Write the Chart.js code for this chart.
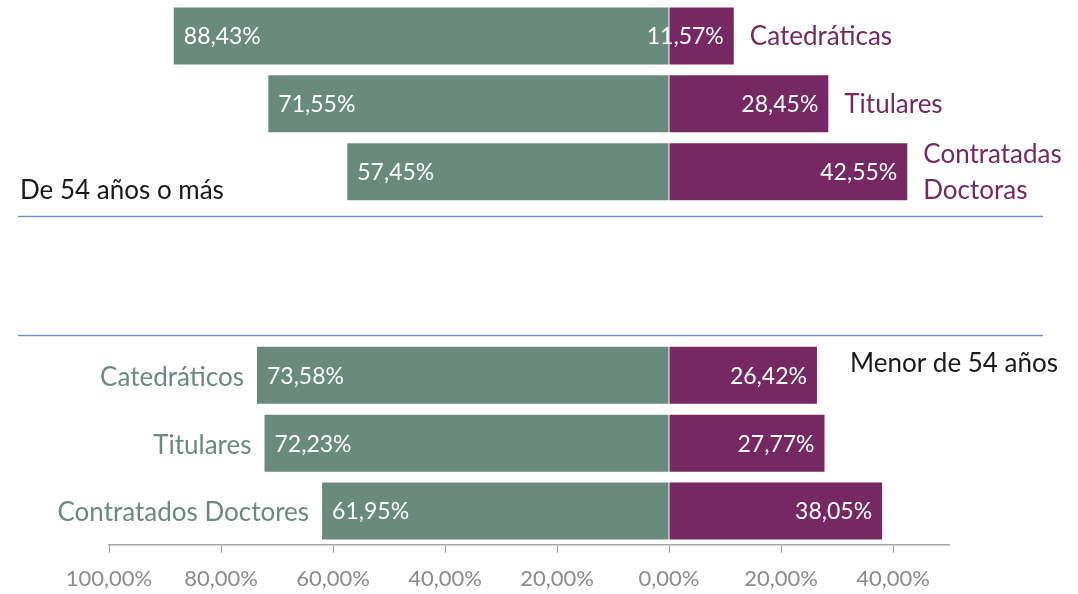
<!DOCTYPE html>
<html>
<head>
<meta charset="utf-8">
<script src="https://cdn.jsdelivr.net/npm/chart.js@4.4.1/dist/chart.umd.min.js"></script>
<style>
html,body{margin:0;padding:0;background:#fff;}
#wrap{width:1078px;height:594px;position:relative;}
</style>
</head>
<body>
<div id="wrap"><canvas id="c" width="1078" height="594"></canvas></div>
<script>
const categories = ['Catedráticas', 'Titulares', 'Contratadas Doctoras', '', '', 'Catedráticos', 'Titulares', 'Contratados Doctores'];
const rightLabels = [['Catedráticas'], ['Titulares'], ['Contratadas', 'Doctoras'], null, null, null, null, null];
const leftLabels = [null, null, null, null, null, 'Catedráticos', 'Titulares', 'Contratados Doctores'];
const greenValues = [88.43, 71.55, 57.45, null, null, 73.58, 72.23, 61.95];
const purpleValues = [11.57, 28.45, 42.55, null, null, 26.42, 27.77, 38.05];
const tickValues = [-100, -80, -60, -40, -20, 0, 20, 40];
const groupTitles = [{text: 'De 54 años o más', row: 2, side: 'left'}, {text: 'Menor de 54 años', row: 5, side: 'right'}];
const separatorRows = [2.66, 4.41];

const GREEN = '#6a8a7d';
const PURPLE = '#752861';
const FONT = 'Lato, "Open Sans", sans-serif';

const fmt = v => Math.abs(v).toFixed(2).replace('.', ',') + '%';

const overlay = {
  id: 'overlay',
  afterDatasetsDraw(chart) {
    const ctx = chart.ctx;
    const y = chart.scales.y;
    const mG = chart.getDatasetMeta(0);
    const mP = chart.getDatasetMeta(1);
    ctx.save();
    // separator lines
    ctx.strokeStyle = '#6f93c6';
    ctx.lineWidth = 1.3;
    separatorRows.forEach(r => {
      const py = Math.round(y.getPixelForValue(r)) + 0.5;
      ctx.beginPath();
      ctx.moveTo(18, py);
      ctx.lineTo(1043, py);
      ctx.stroke();
    });
    // value labels
    ctx.font = '23px ' + FONT;
    ctx.fillStyle = '#ffffff';
    ctx.textBaseline = 'middle';
    mG.data.forEach((el, i) => {
      if (greenValues[i] == null) return;
      const left = Math.min(el.x, el.base);
      ctx.textAlign = 'left';
      ctx.fillText(fmt(greenValues[i]), left + 10, el.y + 1);
    });
    mP.data.forEach((el, i) => {
      if (purpleValues[i] == null) return;
      const right = Math.max(el.x, el.base);
      ctx.textAlign = 'right';
      ctx.fillText(fmt(purpleValues[i]), right - 10, el.y + 1);
    });
    // category labels
    ctx.font = '26px ' + FONT;
    rightLabels.forEach((lines, i) => {
      if (!lines) return;
      const el = mP.data[i];
      const right = Math.max(el.x, el.base);
      ctx.fillStyle = PURPLE;
      ctx.textAlign = 'left';
      const lh = 36;
      lines.forEach((t, k) => {
        ctx.fillText(t, right + 16, el.y + 1 + (k - (lines.length - 1) / 2) * lh);
      });
    });
    leftLabels.forEach((t, i) => {
      if (!t) return;
      const el = mG.data[i];
      const left = Math.min(el.x, el.base);
      ctx.fillStyle = GREEN;
      ctx.textAlign = 'right';
      ctx.fillText(t, left - 13, el.y + 2);
    });
    // group titles
    ctx.font = '26px ' + FONT;
    ctx.fillStyle = '#1a1a1a';
    groupTitles.forEach(g => {
      ctx.textAlign = 'left';
      if (g.side === 'left') {
        ctx.fillText(g.text, 20, y.getPixelForValue(g.row) + 19);
      } else {
        ctx.fillText(g.text, 850, y.getPixelForValue(g.row) - 12);
      }
    });
    ctx.restore();
  }
};

new Chart(document.getElementById('c'), {
  type: 'bar',
  data: {
    labels: categories,
    datasets: [
      {label: 'Hombres', data: greenValues.map(v => v == null ? null : -v), backgroundColor: GREEN, barPercentage: 0.84, categoryPercentage: 1},
      {label: 'Mujeres', data: purpleValues, backgroundColor: PURPLE, barPercentage: 0.84, categoryPercentage: 1}
    ]
  },
  options: {
    indexAxis: 'y',
    responsive: false,
    animation: false,
    layout: {padding: {left: 109, right: 129, top: 2, bottom: 0}},
    plugins: {legend: {display: false}, tooltip: {enabled: false}},
    scales: {
      y: {stacked: true, display: false},
      x: {
        stacked: true,
        min: -100,
        max: 50,
        afterBuildTicks: s => { s.ticks = tickValues.map(v => ({value: v})); },
        afterFit: s => { s.height = 49; },
        border: {display: true, color: '#a6a6a6', width: 1.5},
        grid: {drawOnChartArea: false, drawTicks: true, tickLength: 8, color: '#a6a6a6'},
        ticks: {
          callback: v => fmt(v),
          color: '#8c8c8c',
          font: {family: FONT, size: 22},
          padding: 13,
          maxRotation: 0
        }
      }
    }
  },
  plugins: [overlay]
});
</script>
</body>
</html>
